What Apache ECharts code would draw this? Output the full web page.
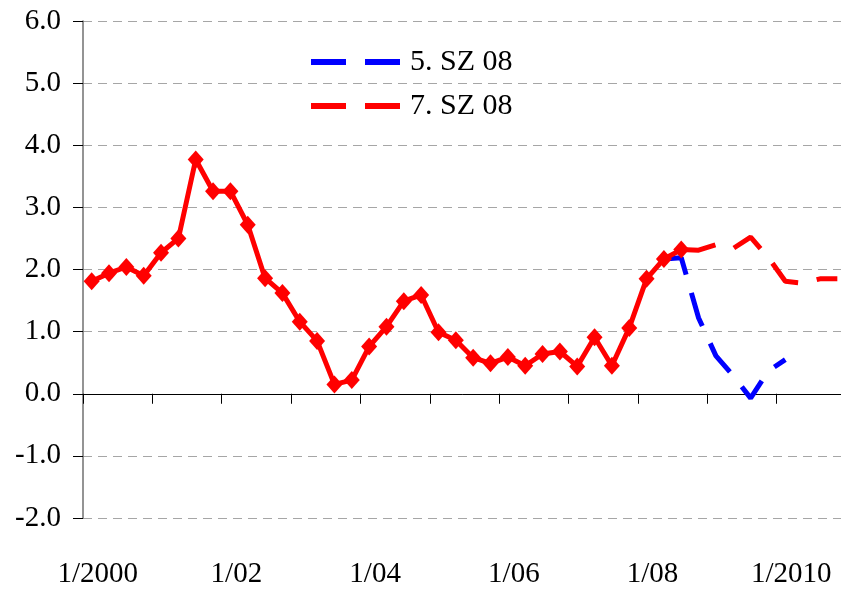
<!DOCTYPE html>
<html>
<head>
<meta charset="utf-8">
<script src="https://cdn.jsdelivr.net/npm/echarts@6/dist/echarts.min.js"></script>
<style>
html,body{margin:0;padding:0;background:#fff;}
#chart{width:841px;height:590px;}
</style>
</head>
<body>
<div id="chart"></div>
<script>
// Quarterly categories 2000Q1 .. 2010Q4
const categories = [
  '2000Q1','2000Q2','2000Q3','2000Q4','2001Q1','2001Q2','2001Q3','2001Q4',
  '2002Q1','2002Q2','2002Q3','2002Q4','2003Q1','2003Q2','2003Q3','2003Q4',
  '2004Q1','2004Q2','2004Q3','2004Q4','2005Q1','2005Q2','2005Q3','2005Q4',
  '2006Q1','2006Q2','2006Q3','2006Q4','2007Q1','2007Q2','2007Q3','2007Q4',
  '2008Q1','2008Q2','2008Q3','2008Q4','2009Q1','2009Q2','2009Q3','2009Q4',
  '2010Q1','2010Q2','2010Q3','2010Q4'
];
const xTickLabels = ['1/2000','1/02','1/04','1/06','1/08','1/2010'];

// Actual values (red solid with diamonds)
const actualValues = [
  1.81, 1.94, 2.04, 1.90, 2.27, 2.50, 3.77, 3.26,
  3.26, 2.72, 1.86, 1.62, 1.16, 0.85, 0.15, 0.22,
  0.76, 1.08, 1.49, 1.59, 0.99, 0.86, 0.58, 0.49,
  0.59, 0.45, 0.64, 0.68, 0.44, 0.91, 0.45, 1.06,
  1.85, 2.17, 2.32, null, null, null, null, null,
  null, null, null, null
];
// "5. SZ 08" (blue dashed)
const sz5Values = [
  null, null, null, null, null, null, null, null,
  null, null, null, null, null, null, null, null,
  null, null, null, null, null, null, null, null,
  null, null, null, null, null, null, null, null,
  null, 2.17, 2.19, 1.22, 0.61, 0.29, -0.07, 0.36,
  0.55, null, null, null
];
// "7. SZ 08" (red dashed)
const sz7Values = [
  null, null, null, null, null, null, null, null,
  null, null, null, null, null, null, null, null,
  null, null, null, null, null, null, null, null,
  null, null, null, null, null, null, null, null,
  null, null, 2.32, 2.31, 2.40, 2.34, 2.52, 2.20,
  1.81, 1.78, 1.85, 1.85
];
const yMin = -2, yMax = 6, yStep = 1;

const FONT = '"Liberation Serif", "Times New Roman", serif';
const chart = echarts.init(document.getElementById('chart'), null, {renderer: 'canvas'});
chart.setOption({
  animation: false,
  backgroundColor: '#ffffff',
  grid: {left: 83, top: 21, width: 763, bottom: 72, containLabel: false, outerBoundsMode: 'none'},
  legend: {
    orient: 'vertical',
    left: 308,
    top: 47,
    padding: 0,
    itemGap: 14,
    itemWidth: 94,
    itemHeight: 14,
    itemStyle: {opacity: 0},
    lineStyle: {width: 6},
    data: ['5. SZ 08', '7. SZ 08'],
    textStyle: {fontFamily: FONT, fontSize: 30, color: '#000'}
  },
  xAxis: {
    type: 'category',
    data: categories,
    boundaryGap: true,
    axisLine: {onZero: true, lineStyle: {color: '#000', width: 1}},
    axisTick: {show: true, interval: 3, length: 10, lineStyle: {color: '#000', width: 1}},
    axisLabel: {
      interval: 7,
      margin: 42,
      fontFamily: FONT,
      fontSize: 29,
      color: '#000',
      padding: [0, 0, 0, 12],
      formatter: function (v, idx) { return idx % 8 === 0 ? xTickLabels[idx / 8] : ''; }
    },
    splitLine: {show: false}
  },
  yAxis: {
    type: 'value',
    min: yMin, max: yMax, interval: yStep,
    axisLine: {show: true, lineStyle: {color: '#707070', width: 1.5}},
    axisTick: {show: true, length: 10, lineStyle: {color: '#000', width: 1}},
    axisLabel: {
      margin: 22,
      fontFamily: FONT,
      fontSize: 29,
      color: '#000',
      padding: [12, 0, 0, 0],
      formatter: function (v) { return v.toFixed(1); }
    },
    splitLine: {show: true, lineStyle: {color: '#a6a6a6', width: 1, type: [9, 6]}}
  },
  series: [
    {
      name: '5. SZ 08',
      type: 'line',
      data: sz5Values,
      symbol: 'none',
      connectNulls: false,
      lineStyle: {color: '#0000ff', width: 5, type: [35, 19]},
      itemStyle: {color: '#0000ff'},
      z: 2
    },
    {
      name: '7. SZ 08',
      type: 'line',
      data: sz7Values,
      symbol: 'none',
      connectNulls: false,
      lineStyle: {color: '#ff0000', width: 5, type: [35, 19]},
      itemStyle: {color: '#ff0000'},
      z: 3
    },
    {
      name: 'Ist',
      type: 'line',
      data: actualValues,
      symbol: 'diamond',
      symbolSize: [16, 18],
      showAllSymbol: true,
      connectNulls: false,
      lineStyle: {color: '#ff0000', width: 5},
      itemStyle: {color: '#ff0000'},
      z: 4
    }
  ]
});
</script>
</body>
</html>
